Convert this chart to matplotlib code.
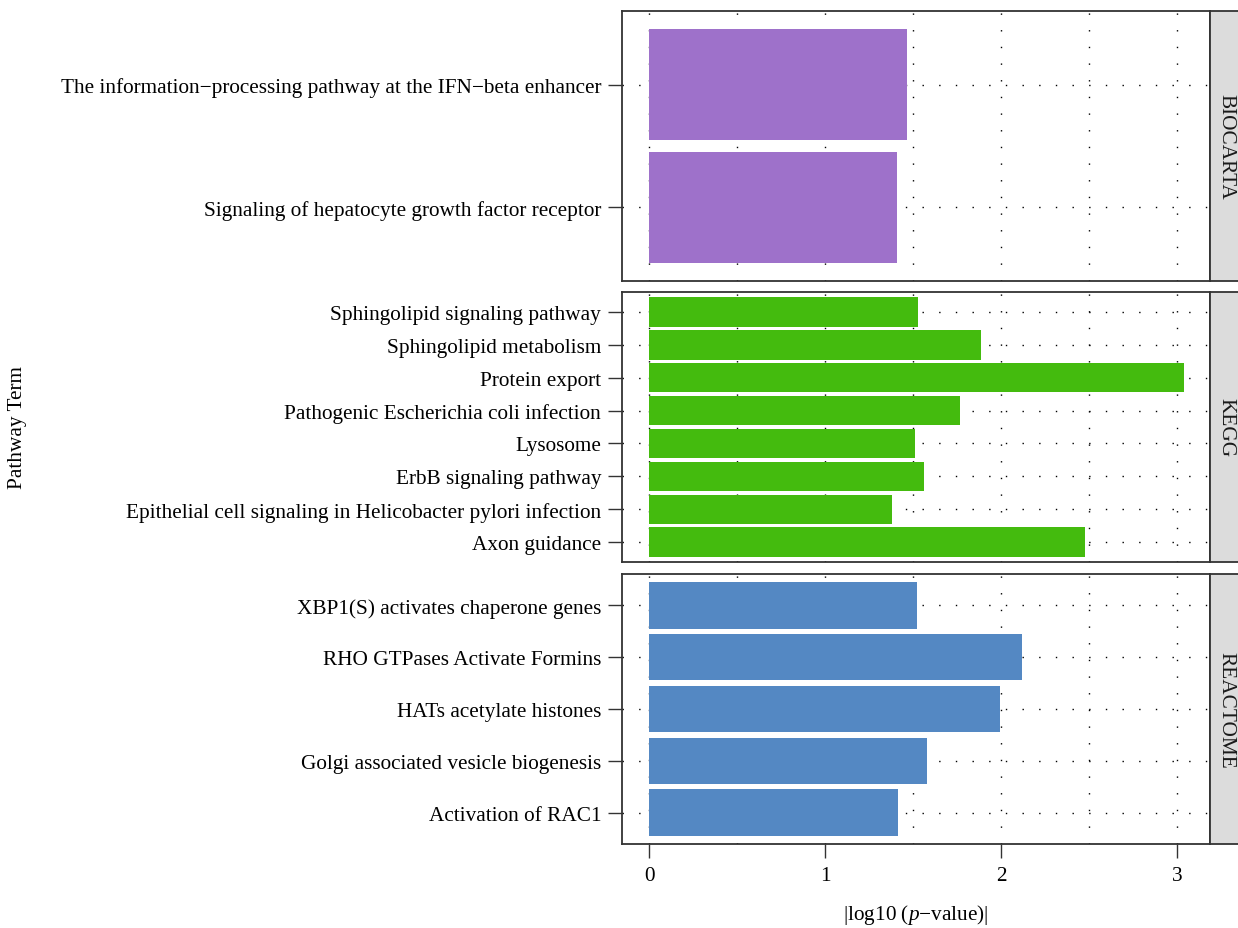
import matplotlib
matplotlib.use("Agg")
import matplotlib.pyplot as plt
from matplotlib.transforms import ScaledTranslation

plt.rcParams['font.family'] = ['Liberation Serif', 'DejaVu Serif']
plt.rcParams['mathtext.fontset'] = 'custom'
plt.rcParams['mathtext.rm'] = 'Liberation Serif'
plt.rcParams['mathtext.it'] = 'Liberation Serif:italic'

databases = ["BIOCARTA", "KEGG", "REACTOME"]
colors = ["#9E71CA", "#44BB0E", "#5488C3"]

biocarta_terms = ["Signaling of hepatocyte growth factor receptor",
                  "The information\u2212processing pathway at the IFN\u2212beta enhancer"]
biocarta_vals = [1.405, 1.465]

kegg_terms = ["Axon guidance",
              "Epithelial cell signaling in Helicobacter pylori infection",
              "ErbB signaling pathway",
              "Lysosome",
              "Pathogenic Escherichia coli infection",
              "Protein export",
              "Sphingolipid metabolism",
              "Sphingolipid signaling pathway"]
kegg_vals = [2.475, 1.378, 1.562, 1.508, 1.765, 3.035, 1.884, 1.525]

reactome_terms = ["Activation of RAC1",
                  "Golgi associated vesicle biogenesis",
                  "HATs acetylate histones",
                  "RHO GTPases Activate Formins",
                  "XBP1(S) activates chaperone genes"]
reactome_vals = [1.415, 1.575, 1.992, 2.117, 1.523]

xticks = [0, 1, 2, 3]
xgrid = [0, 0.5, 1, 1.5, 2, 2.5, 3]

panels = [(biocarta_terms, biocarta_vals), (kegg_terms, kegg_vals), (reactome_terms, reactome_vals)]

W, H = 1238, 929
fig = plt.figure(figsize=(W / 100, H / 100), dpi=100)

left_px, right_px, strip_right = 622, 1210, 1238
tops = [12, 293, 575]
bottoms = [282, 563, 845]

FS = 15.3
shift = ScaledTranslation(0, 2.5 / 100, fig.dpi_scale_trans)

for i, ((terms, vals), db, col) in enumerate(zip(panels, databases, colors)):
    ax = fig.add_axes([left_px / W, 1 - bottoms[i] / H,
                       (right_px - left_px) / W, (bottoms[i] - tops[i]) / H])
    n = len(terms)
    pos = list(range(1, n + 1))
    ax.barh(pos, vals, height=0.9, color=col, zorder=2)
    ax.set_ylim(0.4, n + 0.6)
    ax.set_xlim(-0.156, 3.185)
    ax.set_yticks(pos)
    ax.set_yticklabels(terms, fontsize=FS)
    for lab in ax.get_yticklabels():
        lab.set_transform(lab.get_transform() + shift)
    ax.set_xticks(xticks)
    for g in xgrid:
        ax.axvline(g, color='black', lw=1.0, ls=(0, (1, 11)), zorder=1)
    for p in pos:
        ax.axhline(p, color='black', lw=1.0, ls=(0, (1, 11)), zorder=1)
    ax.tick_params(axis='y', length=10, width=1, pad=5, color='#333333')
    if i < 2:
        ax.tick_params(axis='x', length=0, labelbottom=False)
    else:
        ax.tick_params(axis='x', length=10, width=1, pad=6, labelsize=FS, color='#333333')
        ax.set_xticklabels([str(t) for t in xticks])
    for s in ax.spines.values():
        s.set_color('#333333')
        s.set_linewidth(1.3)
    sax = fig.add_axes([right_px / W, 1 - bottoms[i] / H,
                        (strip_right + 4 - right_px) / W, (bottoms[i] - tops[i]) / H])
    sax.set_facecolor('#DCDCDC')
    sax.set_xticks([])
    sax.set_yticks([])
    for s in sax.spines.values():
        s.set_color('#333333')
        s.set_linewidth(1.3)
    sax.text(0.5, 0.5, db, rotation=270, ha='center', va='center',
             fontsize=FS, color='#1A1A1A', transform=sax.transAxes)

fig.text((left_px + right_px) / 2 / W, 1 - 915 / H,
         "|log10 ($\\mathit{p}$\u2212value)|", ha='center', va='center', fontsize=FS)
fig.text(18 / W, 1 - 428 / H, "Pathway Term", rotation=90, ha='center', va='center', fontsize=FS)

fig.savefig("out.png", dpi=100)
